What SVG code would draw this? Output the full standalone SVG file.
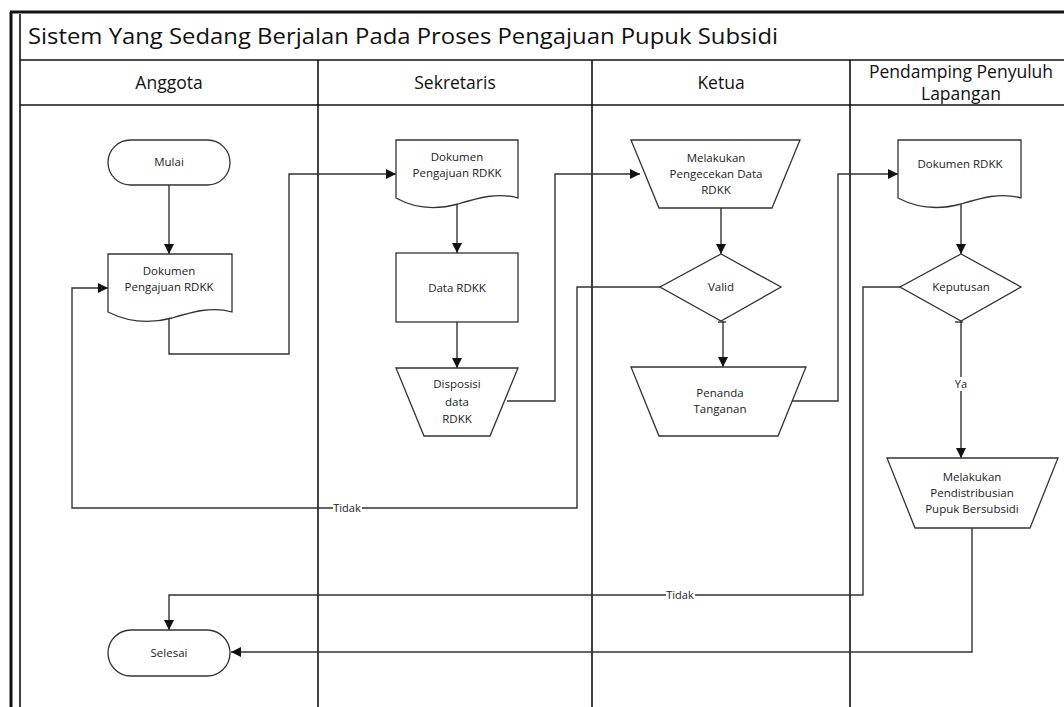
<svg xmlns="http://www.w3.org/2000/svg" width="1064" height="707" viewBox="0 0 1064 707">
  <style>
    .frame { fill: none; stroke: #111; stroke-width: 1.6; }
    .heavy { fill: none; stroke: #111; stroke-width: 3; }
    .shape { fill: #fff; stroke: #333; stroke-width: 1.3; }
    .conn { fill: none; stroke: #333; stroke-width: 1.4; }
    .title { font-family: "Open Sans", "Liberation Sans", sans-serif; font-size: 21px; fill: #111; }
    .head { font-family: "Open Sans", "Liberation Sans", sans-serif; font-size: 17.5px; fill: #111; text-anchor: middle; }
    .lbl { font-family: "Open Sans", "Liberation Sans", sans-serif; font-size: 11.5px; fill: #222; text-anchor: middle; }
    .elbl { font-family: "Open Sans", "Liberation Sans", sans-serif; font-size: 11px; fill: #222; text-anchor: middle; }
  </style>
  <defs>
    <marker id="arrow" viewBox="0 0 10 10" refX="10" refY="5" markerWidth="10" markerHeight="10" markerUnits="userSpaceOnUse" orient="auto">
      <path d="M0,0 L10,5 L0,10 z" fill="#111"/>
    </marker>
  </defs>
  <rect width="1064" height="707" fill="#fff"/>

  <!-- swimlane frame -->
  <g id="pool">
    <line class="heavy" x1="11" y1="12" x2="11" y2="707"/>
    <line class="heavy" x1="10" y1="12" x2="1064" y2="12"/>
    <line class="frame" x1="20" y1="14" x2="20" y2="707"/>
    <line class="frame" x1="20" y1="60" x2="1064" y2="60"/>
    <line class="frame" x1="20" y1="105" x2="1064" y2="105"/>
    <line class="frame" x1="318" y1="60" x2="318" y2="707"/>
    <line class="frame" x1="592" y1="60" x2="592" y2="707"/>
    <line class="frame" x1="850" y1="60" x2="850" y2="707"/>
    <text class="title" x="28" y="44" textLength="750" lengthAdjust="spacingAndGlyphs">Sistem Yang Sedang Berjalan Pada Proses Pengajuan Pupuk Subsidi</text>
    <text class="head" x="169" y="89">Anggota</text>
    <text class="head" x="455" y="89">Sekretaris</text>
    <text class="head" x="721" y="89">Ketua</text>
    <text class="head" x="961" y="78">Pendamping Penyuluh</text>
    <text class="head" x="961" y="100">Lapangan</text>
  </g>

  <!-- connectors -->
  <g id="connectors">
    <path class="conn" d="M169,185 V254" marker-end="url(#arrow)"/>
    <path class="conn" d="M169,318 V354 H289 V174 H396" marker-end="url(#arrow)"/>
    <path class="conn" d="M457,203 V253" marker-end="url(#arrow)"/>
    <path class="conn" d="M457,322 V368" marker-end="url(#arrow)"/>
    <path class="conn" d="M507,401 H555 V174 H640" marker-end="url(#arrow)"/>
    <path class="conn" d="M721,208 V254" marker-end="url(#arrow)"/>
    <path class="conn" d="M660,287 H577 V508 H72 V288 H108" marker-end="url(#arrow)"/>
    <path class="conn" d="M723,321 V367" marker-end="url(#arrow)"/>
    <path class="conn" d="M718,322 H726"/>
    <path class="conn" d="M788,401 H838 V174 H898" marker-end="url(#arrow)"/>
    <path class="conn" d="M961,203 V254" marker-end="url(#arrow)"/>
    <path class="conn" d="M900,287 H863 V595 H169 V630" marker-end="url(#arrow)"/>
    <path class="conn" d="M961,321 V458" marker-end="url(#arrow)"/>
    <path class="conn" d="M955,322 H963"/>
    <path class="conn" d="M972,528 V652 H231" marker-end="url(#arrow)"/>
    <rect x="333" y="502" width="29" height="12" fill="#fff"/>
    <text class="elbl" x="347" y="512">Tidak</text>
    <rect x="666" y="589" width="29" height="12" fill="#fff"/>
    <text class="elbl" x="680" y="599">Tidak</text>
    <rect x="953" y="377" width="16" height="14" fill="#fff"/>
    <text class="elbl" x="961" y="388">Ya</text>
  </g>

  <g id="mulai">
    <rect class="shape" x="108" y="140" width="122" height="45" rx="22.5"/>
    <text class="lbl" x="169" y="166">Mulai</text>
  </g>

  <g id="dok-anggota">
    <path class="shape" d="M108,254 H232 V312 C212,306 192,312 172,318 C150,324 128,322 108,312 Z"/>
    <text class="lbl" x="169" y="275">Dokumen</text>
    <text class="lbl" x="169" y="291">Pengajuan RDKK</text>
  </g>

  <g id="dok-sekretaris">
    <path class="shape" d="M396,140 H518 V198 C498,192 478,198 458,204 C436,210 414,208 396,198 Z"/>
    <text class="lbl" x="457" y="161">Dokumen</text>
    <text class="lbl" x="457" y="177">Pengajuan RDKK</text>
  </g>

  <g id="data-rdkk">
    <rect class="shape" x="396" y="253" width="122" height="69"/>
    <text class="lbl" x="457" y="292">Data RDKK</text>
  </g>

  <g id="disposisi">
    <path class="shape" d="M396,368 H518 L490,436 H424 Z"/>
    <text class="lbl" x="457" y="388">Disposisi</text>
    <text class="lbl" x="457" y="406">data</text>
    <text class="lbl" x="457" y="423">RDKK</text>
  </g>

  <g id="pengecekan">
    <path class="shape" d="M631,140 H800 L772,208 H659 Z"/>
    <text class="lbl" x="716" y="162">Melakukan</text>
    <text class="lbl" x="716" y="178">Pengecekan Data</text>
    <text class="lbl" x="716" y="194">RDKK</text>
  </g>

  <g id="valid">
    <path class="shape" d="M721,254 L781,287 L721,321 L660,287 Z"/>
    <text class="lbl" x="721" y="291">Valid</text>
  </g>

  <g id="penanda-tanganan">
    <path class="shape" d="M631,367 H806 L778,436 H659 Z"/>
    <text class="lbl" x="720" y="397">Penanda</text>
    <text class="lbl" x="720" y="413">Tanganan</text>
  </g>

  <g id="dok-rdkk">
    <path class="shape" d="M898,140 H1021 V198 C1001,192 981,198 961,204 C939,210 917,208 898,198 Z"/>
    <text class="lbl" x="960" y="168">Dokumen RDKK</text>
  </g>

  <g id="keputusan">
    <path class="shape" d="M961,254 L1021,287 L961,321 L900,287 Z"/>
    <text class="lbl" x="961" y="291">Keputusan</text>
  </g>

  <g id="pendistribusian">
    <path class="shape" d="M887,458 H1058 L1030,528 H915 Z"/>
    <text class="lbl" x="972" y="481">Melakukan</text>
    <text class="lbl" x="972" y="497">Pendistribusian</text>
    <text class="lbl" x="972" y="513">Pupuk Bersubsidi</text>
  </g>

  <g id="selesai">
    <rect class="shape" x="108" y="630" width="122" height="46" rx="23"/>
    <text class="lbl" x="169" y="657">Selesai</text>
  </g>
</svg>
